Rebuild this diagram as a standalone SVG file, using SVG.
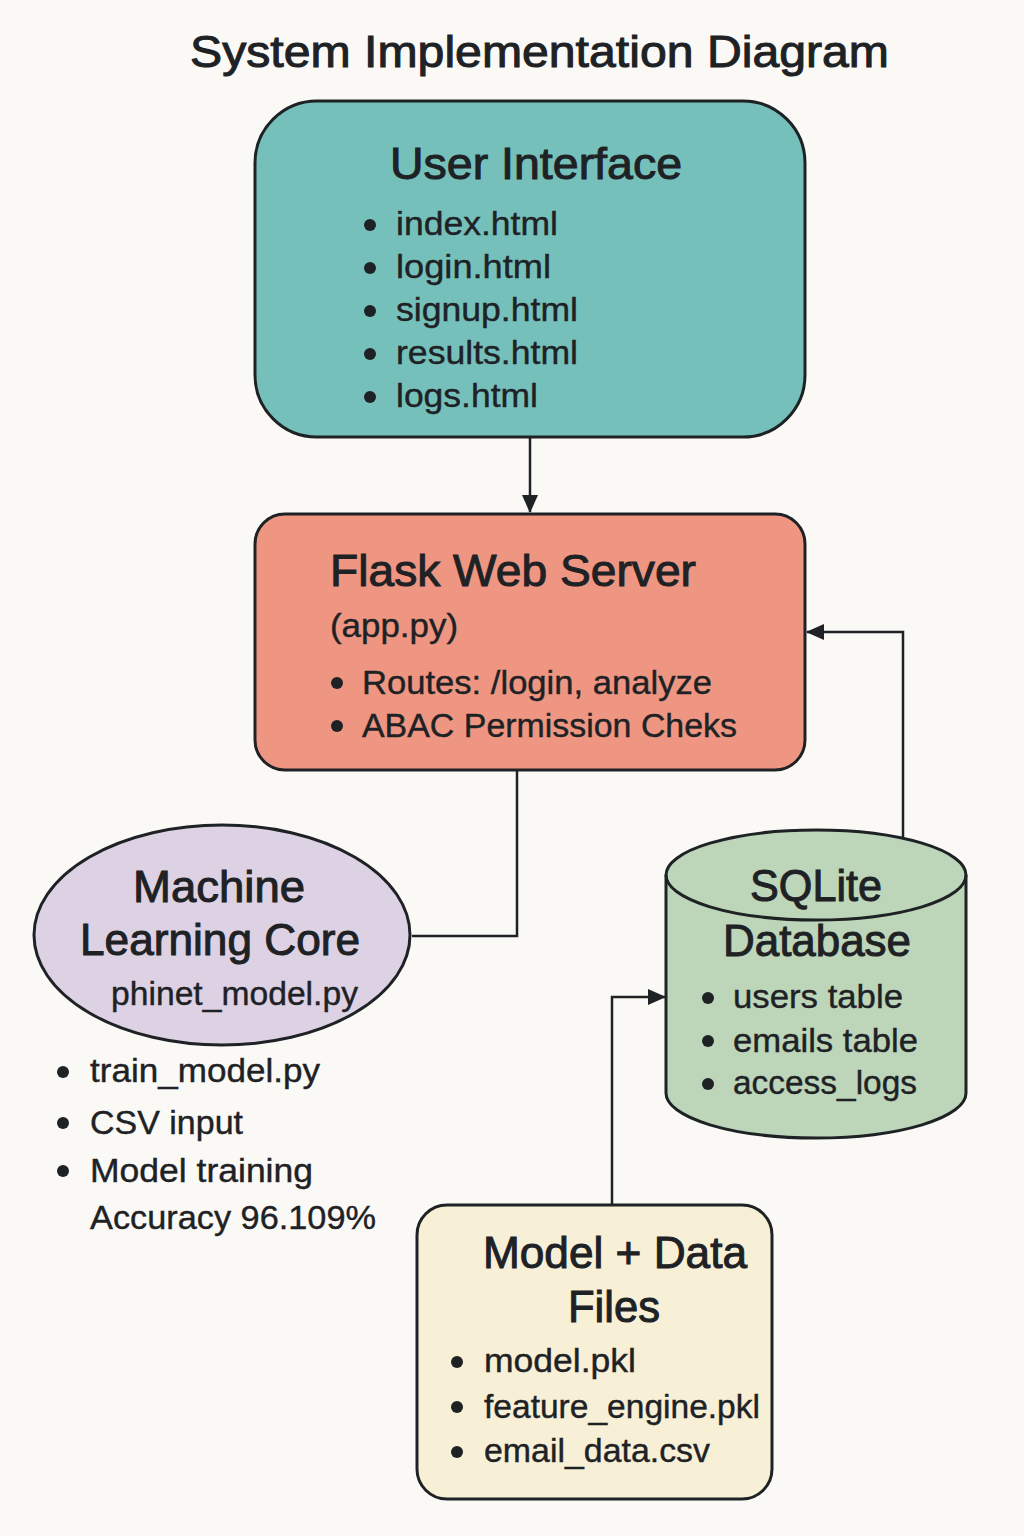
<svg xmlns="http://www.w3.org/2000/svg" width="1024" height="1536" viewBox="0 0 1024 1536">
<defs>
<marker id="arr" viewBox="0 0 18 16" refX="17" refY="8" markerWidth="18" markerHeight="16" markerUnits="userSpaceOnUse" orient="auto">
<path d="M0,0 L18,8 L0,16 Z" fill="#1e2225"/>
</marker>
<style>
text{font-family:"Liberation Sans",Arial,sans-serif;fill:#1e2225;stroke:#1e2225;stroke-width:0.4;}
.shape{stroke:#1e2225;stroke-width:3;}
.t{font-size:44px;stroke-width:1;}
.b{font-size:33px;}
.dot{fill:#1e2225;}
.conn{fill:none;stroke:#1e2225;stroke-width:2.5;}
</style>
</defs>
<rect width="1024" height="1536" fill="#faf9f6"/>
<text class="t" x="190" y="67" font-size="46" textLength="699" lengthAdjust="spacingAndGlyphs">System Implementation Diagram</text>

<g id="connectors">
<path class="conn" d="M530,437 V512" marker-end="url(#arr)"/>
<path class="conn" d="M517,770 V936 H412"/>
<path class="conn" d="M903,838 V632 H807" marker-end="url(#arr)"/>
<path class="conn" d="M612,1205 V997 H665" marker-end="url(#arr)"/>
</g>

<g id="ui">
<rect class="shape" x="255" y="101" width="550" height="336" rx="62" fill="#76c0bb"/>
<text class="t" x="390" y="179" font-size="42" textLength="292" lengthAdjust="spacingAndGlyphs">User Interface</text>
<circle class="dot" cx="370" cy="225" r="6"/>
<text class="b" x="396" y="235" textLength="162" lengthAdjust="spacingAndGlyphs">index.html</text>
<circle class="dot" cx="370" cy="268" r="6"/>
<text class="b" x="396" y="278" textLength="155" lengthAdjust="spacingAndGlyphs">login.html</text>
<circle class="dot" cx="370" cy="311" r="6"/>
<text class="b" x="396" y="321" textLength="182" lengthAdjust="spacingAndGlyphs">signup.html</text>
<circle class="dot" cx="370" cy="354" r="6"/>
<text class="b" x="396" y="364" textLength="182" lengthAdjust="spacingAndGlyphs">results.html</text>
<circle class="dot" cx="370" cy="397" r="6"/>
<text class="b" x="396" y="407" textLength="142" lengthAdjust="spacingAndGlyphs">logs.html</text>
</g>

<g id="flask">
<rect class="shape" x="255" y="514" width="550" height="256" rx="30" fill="#ee9682"/>
<text class="t" x="330" y="586" textLength="366" lengthAdjust="spacingAndGlyphs">Flask Web Server</text>
<text class="b" x="330" y="637" font-size="32" textLength="128" lengthAdjust="spacingAndGlyphs">(app.py)</text>
<circle class="dot" cx="337" cy="683" r="6"/>
<text class="b" x="362" y="694" font-size="32" textLength="350" lengthAdjust="spacingAndGlyphs">Routes: /login, analyze</text>
<circle class="dot" cx="337" cy="726" r="6"/>
<text class="b" x="362" y="737" font-size="32" textLength="375" lengthAdjust="spacingAndGlyphs">ABAC Permission Cheks</text>
</g>

<g id="ml">
<ellipse class="shape" cx="222" cy="935" rx="188" ry="110" fill="#ddd1e4"/>
<text class="t" x="133" y="902" textLength="172" lengthAdjust="spacingAndGlyphs">Machine</text>
<text class="t" x="80" y="955" textLength="280" lengthAdjust="spacingAndGlyphs">Learning Core</text>
<text class="b" x="111" y="1005" font-size="31" textLength="247" lengthAdjust="spacingAndGlyphs">phinet_model.py</text>
<circle class="dot" cx="63" cy="1072" r="6"/>
<text class="b" x="90" y="1082" font-size="32" textLength="230" lengthAdjust="spacingAndGlyphs">train_model.py</text>
<circle class="dot" cx="63" cy="1123" r="6"/>
<text class="b" x="90" y="1134" font-size="32" textLength="153" lengthAdjust="spacingAndGlyphs">CSV input</text>
<circle class="dot" cx="63" cy="1171" r="6"/>
<text class="b" x="90" y="1182" font-size="32" textLength="223" lengthAdjust="spacingAndGlyphs">Model training</text>
<text class="b" x="90" y="1229" font-size="32" textLength="286" lengthAdjust="spacingAndGlyphs">Accuracy 96.109%</text>
</g>

<g id="sqlite">
<path class="shape" d="M666,875 V1093 A150,45 0 0 0 966,1093 V875 A150,45 0 0 0 666,875 Z" fill="#bdd5b9"/>
<path class="shape" d="M666,875 A150,45 0 0 0 966,875" fill="none"/>
<text class="t" x="750" y="901" textLength="132" lengthAdjust="spacingAndGlyphs">SQLite</text>
<text class="t" x="723" y="956" textLength="188" lengthAdjust="spacingAndGlyphs">Database</text>
<circle class="dot" cx="708" cy="998" r="6"/>
<text class="b" x="733" y="1008" font-size="32" textLength="170" lengthAdjust="spacingAndGlyphs">users table</text>
<circle class="dot" cx="708" cy="1041" r="6"/>
<text class="b" x="733" y="1052" font-size="32" textLength="185" lengthAdjust="spacingAndGlyphs">emails table</text>
<circle class="dot" cx="708" cy="1084" r="6"/>
<text class="b" x="733" y="1094" font-size="32" textLength="184" lengthAdjust="spacingAndGlyphs">access_logs</text>
</g>

<g id="files">
<rect class="shape" x="417" y="1205" width="355" height="294" rx="30" fill="#f7f0d7"/>
<text class="t" x="483" y="1268" textLength="264" lengthAdjust="spacingAndGlyphs">Model + Data</text>
<text class="t" x="568" y="1322" textLength="92" lengthAdjust="spacingAndGlyphs">Files</text>
<circle class="dot" cx="457" cy="1362" r="6"/>
<text class="b" x="484" y="1372" font-size="32" textLength="152" lengthAdjust="spacingAndGlyphs">model.pkl</text>
<circle class="dot" cx="457" cy="1407" r="6"/>
<text class="b" x="484" y="1418" font-size="32" textLength="276" lengthAdjust="spacingAndGlyphs">feature_engine.pkl</text>
<circle class="dot" cx="457" cy="1452" r="6"/>
<text class="b" x="484" y="1462" font-size="32" textLength="226" lengthAdjust="spacingAndGlyphs">email_data.csv</text>
</g>
</svg>
